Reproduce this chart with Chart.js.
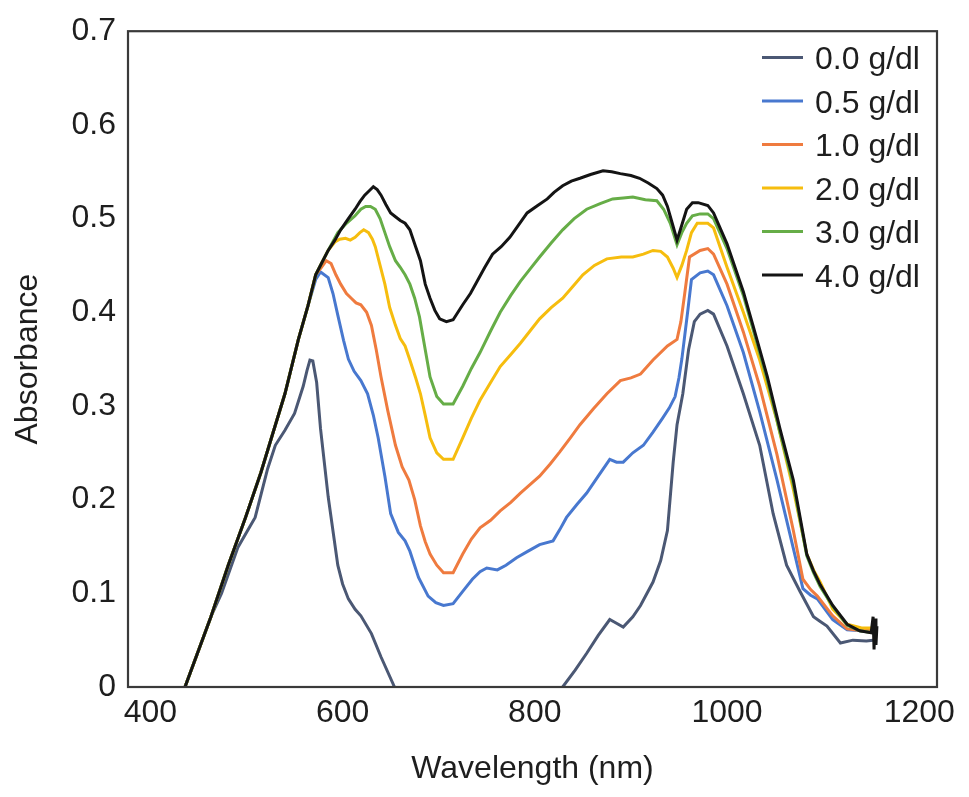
<!DOCTYPE html>
<html><head><meta charset="utf-8">
<script src="https://cdn.jsdelivr.net/npm/chart.js@4.4.1/dist/chart.umd.min.js"></script>
<style>html,body{margin:0;padding:0;background:#fff}#wrap{width:969px;height:797px;position:relative}</style>
</head><body><div id="wrap"><canvas id="c"></canvas></div>
<script>
const seriesLabels = ['0.0 g/dl','0.5 g/dl','1.0 g/dl','2.0 g/dl','3.0 g/dl','4.0 g/dl'];
const seriesColors = ['#4b5874','#4878cf','#ef7b3f','#f6bd0e','#66ad47','#141414'];
const xTicks = [400,600,800,1000,1200];
const yTicks = [0,0.1,0.2,0.3,0.4,0.5,0.6,0.7];

// shared rising edge of the absorbance spectra [wavelength nm, absorbance]
const risingEdge = [[436,0],[463,0.075],[481,0.13],[499,0.181],[515,0.229],[526,0.266],[540,0.313],[554,0.371],[564,0.407]];

const abs00 = [[436,0],[463,0.075],[474,0.1],[491,0.149],[509,0.181],[522,0.233],[530,0.258],[540,0.274],[550,0.292],[559,0.321],[563,0.338],[566,0.349],[569,0.348],[573,0.325],[577,0.276],[585,0.203],[595,0.13],[600,0.11],[606,0.094],[613,0.083],[619,0.076],[630,0.057],[640,0.032],[654,0],[700,null],[829,0],[842,0.018],[854,0.036],[866,0.055],[878,0.072],[885,0.068],[892,0.064],[902,0.075],[910,0.087],[923,0.112],[931,0.135],[938,0.167],[944,0.24],[948,0.28],[954,0.313],[960,0.36],[966,0.39],[972,0.398],[980,0.402],[986,0.398],[1000,0.364],[1017,0.313],[1034,0.258],[1048,0.185],[1062,0.13],[1076,0.102],[1090,0.075],[1097,0.07],[1104,0.065],[1118,0.047],[1131,0.05],[1145,0.049],[1152,0.05]];

const abs05 = [[572,0.435],[577,0.443],[585,0.437],[590,0.42],[595,0.397],[601,0.37],[606,0.35],[612,0.337],[619,0.327],[626,0.313],[632,0.29],[637,0.266],[644,0.225],[650,0.185],[658,0.165],[665,0.156],[670,0.145],[679,0.117],[689,0.097],[697,0.09],[705,0.087],[715,0.089],[725,0.102],[735,0.115],[743,0.123],[750,0.127],[761,0.125],[770,0.13],[781,0.138],[793,0.145],[805,0.152],[819,0.156],[826,0.168],[833,0.181],[844,0.195],[854,0.207],[866,0.225],[878,0.243],[885,0.24],[892,0.24],[902,0.25],[913,0.258],[923,0.272],[933,0.287],[940,0.298],[946,0.31],[950,0.33],[953,0.35],[959,0.4],[963,0.435],[972,0.442],[980,0.444],[986,0.44],[1000,0.407],[1017,0.357],[1034,0.294],[1052,0.221],[1069,0.148],[1079,0.105],[1087,0.098],[1094,0.094],[1110,0.072],[1125,0.061],[1140,0.06],[1152,0.061]];

const abs10 = [[572,0.44],[578,0.448],[583,0.455],[588,0.452],[593,0.44],[598,0.43],[604,0.42],[609,0.415],[614,0.41],[619,0.408],[625,0.4],[630,0.386],[635,0.36],[640,0.331],[647,0.295],[655,0.258],[662,0.235],[669,0.221],[675,0.2],[681,0.172],[686,0.155],[691,0.142],[698,0.13],[705,0.122],[715,0.122],[725,0.142],[734,0.158],[743,0.17],[754,0.178],[764,0.188],[775,0.197],[785,0.207],[795,0.216],[805,0.225],[816,0.238],[826,0.251],[837,0.266],[847,0.28],[861,0.297],[875,0.313],[889,0.327],[900,0.33],[910,0.334],[923,0.349],[938,0.364],[948,0.371],[952,0.39],[956,0.42],[961,0.459],[972,0.466],[980,0.468],[986,0.462],[1000,0.43],[1017,0.379],[1034,0.321],[1052,0.248],[1069,0.167],[1079,0.115],[1087,0.104],[1094,0.097],[1110,0.076],[1125,0.062],[1140,0.06],[1152,0.061]];

const abs20 = [[572,0.44],[578,0.452],[585,0.466],[592,0.475],[597,0.478],[603,0.479],[608,0.477],[613,0.48],[618,0.485],[622,0.488],[627,0.485],[631,0.478],[634,0.47],[639,0.45],[644,0.43],[649,0.405],[655,0.386],[660,0.372],[665,0.364],[670,0.349],[676,0.33],[681,0.313],[686,0.29],[691,0.266],[698,0.25],[705,0.243],[715,0.243],[725,0.266],[734,0.287],[743,0.306],[754,0.325],[764,0.342],[775,0.355],[785,0.367],[795,0.38],[805,0.393],[817,0.405],[829,0.415],[840,0.428],[850,0.44],[862,0.45],[875,0.457],[890,0.459],[902,0.459],[913,0.462],[923,0.466],[931,0.465],[938,0.459],[944,0.447],[948,0.437],[953,0.45],[958,0.466],[963,0.485],[969,0.495],[975,0.495],[980,0.495],[986,0.49],[1000,0.448],[1017,0.4],[1034,0.349],[1052,0.284],[1069,0.211],[1083,0.142],[1090,0.125],[1097,0.112],[1110,0.083],[1125,0.067],[1140,0.063],[1152,0.063]];

const abs30 = [[572,0.44],[578,0.452],[585,0.466],[595,0.485],[604,0.495],[613,0.503],[619,0.51],[624,0.513],[629,0.513],[634,0.51],[639,0.5],[644,0.485],[649,0.47],[655,0.455],[660,0.448],[665,0.44],[670,0.43],[675,0.415],[680,0.395],[686,0.36],[691,0.331],[698,0.31],[705,0.302],[715,0.302],[725,0.321],[734,0.34],[743,0.357],[754,0.38],[764,0.4],[775,0.418],[785,0.433],[795,0.446],[805,0.459],[817,0.474],[829,0.488],[841,0.5],[854,0.51],[868,0.516],[881,0.521],[892,0.522],[902,0.523],[915,0.52],[927,0.519],[934,0.51],[941,0.495],[948,0.472],[953,0.485],[958,0.495],[964,0.503],[972,0.505],[980,0.505],[986,0.5],[1000,0.468],[1017,0.418],[1027,0.382],[1042,0.327],[1055,0.272],[1069,0.216],[1083,0.14],[1090,0.122],[1097,0.107],[1110,0.086],[1125,0.066],[1138,0.06],[1152,0.058]];

const abs40 = [[572,0.44],[578,0.452],[585,0.466],[592,0.477],[598,0.488],[606,0.5],[613,0.51],[618,0.518],[623,0.525],[628,0.53],[632,0.534],[636,0.531],[640,0.525],[645,0.515],[650,0.506],[655,0.502],[660,0.498],[665,0.495],[670,0.488],[676,0.47],[681,0.455],[686,0.43],[691,0.415],[696,0.402],[701,0.393],[708,0.39],[715,0.392],[725,0.408],[733,0.42],[740,0.433],[748,0.448],[756,0.462],[765,0.47],[774,0.48],[783,0.493],[792,0.506],[803,0.514],[813,0.521],[820,0.528],[829,0.535],[838,0.54],[847,0.543],[858,0.547],[871,0.551],[880,0.55],[889,0.548],[900,0.546],[909,0.543],[918,0.538],[927,0.532],[933,0.525],[938,0.513],[943,0.495],[948,0.477],[952,0.49],[958,0.51],[964,0.517],[970,0.517],[980,0.514],[986,0.506],[1000,0.473],[1017,0.422],[1027,0.386],[1042,0.331],[1055,0.276],[1069,0.221],[1083,0.142],[1090,0.124],[1097,0.109],[1110,0.087],[1125,0.067],[1138,0.06],[1150,0.058],[1152,0.075],[1153,0.04],[1154,0.073],[1155,0.045],[1156,0.065]];

const seriesData = [abs00, risingEdge.concat(abs05), risingEdge.concat(abs10), risingEdge.concat(abs20), risingEdge.concat(abs30), risingEdge.concat(abs40)];
const drawOrder = [5,4,3,2,1,0];

const FONT = "'Liberation Sans', Arial, Helvetica, sans-serif";
Chart.defaults.font.family = FONT;
Chart.defaults.color = '#1e1e1e';

const frame = {
  id: 'frame',
  afterDatasetsDraw(chart) {
    const {ctx, chartArea: a} = chart;
    ctx.save();
    ctx.strokeStyle = '#3a3a3a';
    ctx.lineWidth = 2.2;
    ctx.strokeRect(a.left, a.top, a.right - a.left, a.bottom - a.top);
    ctx.restore();
  },
  afterDraw(chart) {
    const ctx = chart.ctx;
    ctx.save();
    ctx.font = '32px ' + FONT;
    ctx.textAlign = 'left';
    ctx.textBaseline = 'alphabetic';
    chart.data.datasets.forEach((ds, i) => {
      const y = 57.5 + i * 43.5;
      ctx.strokeStyle = ds.borderColor;
      ctx.lineWidth = 3.2;
      ctx.beginPath(); ctx.moveTo(762, y); ctx.lineTo(803, y); ctx.stroke();
      ctx.fillStyle = '#1e1e1e';
      ctx.fillText(ds.label, 815, y + 11.5);
    });
    ctx.restore();
  }
};

new Chart(document.getElementById('c'), {
  type: 'scatter',
  data: {
    datasets: seriesData.map((d, i) => ({
      label: seriesLabels[i],
      data: d.map(p => ({x: p[0], y: p[1]})),
      showLine: true,
      borderColor: seriesColors[i],
      backgroundColor: seriesColors[i],
      borderWidth: 3,
      pointRadius: 0,
      tension: 0,
      order: drawOrder[i]
    }))
  },
  options: {
    responsive: true,
    maintainAspectRatio: false,
    animation: false,
    layout: {padding: {top: 25, right: 32, left: 0, bottom: 0}},
    plugins: {legend: {display: false}, tooltip: {enabled: false}},
    scales: {
      x: {
        type: 'linear', min: 376.7, max: 1218.5,
        afterBuildTicks: s => { s.ticks = xTicks.map(v => ({value: v})); },
        afterFit: s => { s.height = 110; },
        grid: {display: false, drawTicks: false, tickLength: 0},
        border: {display: false},
        ticks: {font: {size: 32}, color: '#1e1e1e', padding: 7, maxRotation: 0, autoSkip: false, callback: v => String(v)},
        title: {display: true, text: 'Wavelength (nm)', font: {size: 32}, color: '#1e1e1e', padding: {top: 0, bottom: 9}}
      },
      y: {
        type: 'linear', min: 0, max: 0.7,
        afterBuildTicks: s => { s.ticks = yTicks.map(v => ({value: v})); },
        afterFit: s => { s.width = 128; },
        grid: {display: false, drawTicks: false, tickLength: 0},
        border: {display: false},
        ticks: {font: {size: 32}, color: '#1e1e1e', padding: 12, callback: v => String(v)},
        title: {display: true, text: 'Absorbance', font: {size: 32}, color: '#1e1e1e', padding: {top: 9, bottom: 0}}
      }
    }
  },
  plugins: [frame]
});
</script>
</body></html>
